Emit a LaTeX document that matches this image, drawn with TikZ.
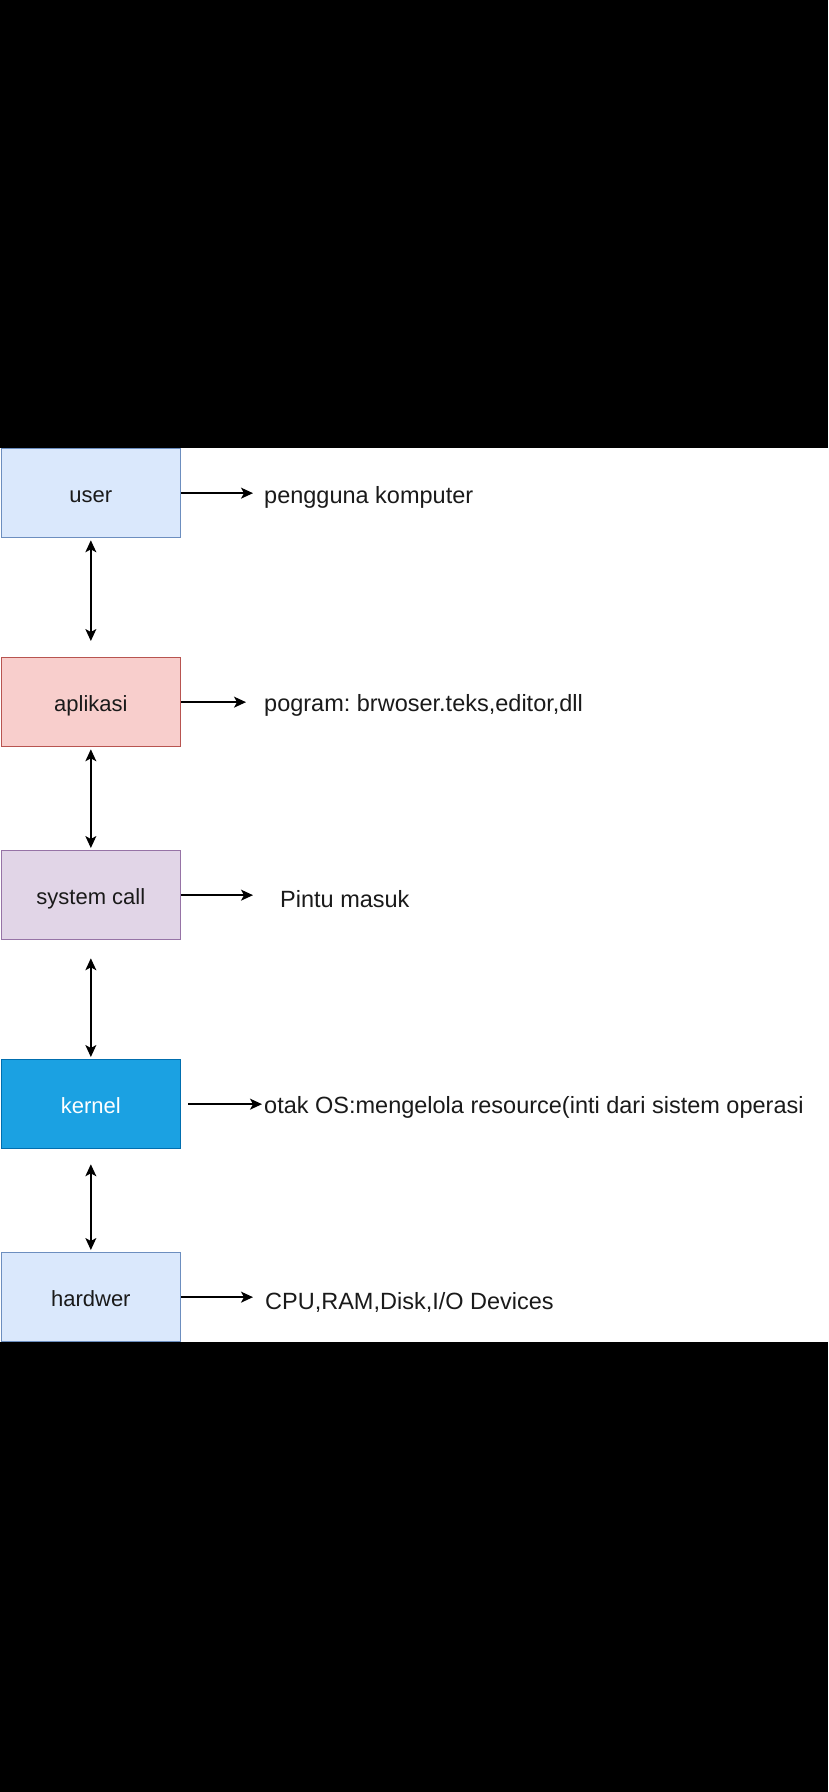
\documentclass[tikz,border=0pt]{standalone}
\usepackage{fontspec}
\setmainfont{Liberation Sans}
\usepackage{xcolor}
\usetikzlibrary{arrows.meta}
\definecolor{birufill}{HTML}{DAE8FC}
\definecolor{birugaris}{HTML}{6C8EBF}
\definecolor{merahfill}{HTML}{F8CECC}
\definecolor{merahgaris}{HTML}{B85450}
\definecolor{ungufill}{HTML}{E1D5E7}
\definecolor{ungugaris}{HTML}{9673A6}
\definecolor{kernelfill}{HTML}{1BA1E2}
\definecolor{kernelgaris}{HTML}{006EAF}
\definecolor{teksgelap}{HTML}{1A1A1A}

\begin{document}
\frenchspacing
\begin{tikzpicture}[x=1pt,y=-1pt,
    lapis/.style={draw,line width=1.3pt,anchor=north west,minimum width=179pt,minimum height=89pt,inner sep=0pt,text height=22pt,text depth=2.5pt,text=teksgelap,font=\fontsize{22}{26}\selectfont},
    ket/.style={anchor=west,inner sep=0pt,text=teksgelap,font=\fontsize{23.5}{28}\selectfont},
    panah/.style={-{Stealth[length=12pt,width=11pt,inset=3pt]},line width=1.4pt},
    duapanah/.style={{Stealth[length=12pt,width=11pt,inset=3pt]}-{Stealth[length=12pt,width=11pt,inset=3pt]},line width=1.4pt}]
        \useasboundingbox (0,0) rectangle (828,1792);
        \fill[black] (0,0) rectangle (828,1792);
        \fill[white] (0,448) rectangle (828,1342);
        % lapisan sistem
        \node[lapis,fill=birufill,draw=birugaris] (user) at (0.7,448) {user};
        \node[lapis,fill=merahfill,draw=merahgaris] (aplikasi) at (0.7,657) {aplikasi};
        \node[lapis,fill=ungufill,draw=ungugaris] (syscall) at (0.7,850) {system call};
        \node[lapis,fill=kernelfill,draw=kernelgaris,text=white] (kernel) at (0.7,1059) {kernel};
        \node[lapis,fill=birufill,draw=birugaris] (hardwer) at (0.7,1252) {hardwer};
        % keterangan
        \node[ket] (ketuser) at (264,497) {pengguna komputer};
        \node[ket] (ketaplikasi) at (264,705) {pogram: brwoser.teks,editor,dll};
        \node[ket] (ketsyscall) at (280,899) {Pintu masuk};
        \node[ket] (ketkernel) at (264,1107) {otak OS:mengelola resource(inti dari sistem operasi};
        \node[ket] (kethardwer) at (265,1302) {CPU,RAM,Disk,I/O Devices};
        \draw[panah,shorten >=11pt] (user.east) -- (user.east -| ketuser.west);
        \draw[panah,shorten >=18pt] (aplikasi.east) -- (aplikasi.east -| ketaplikasi.west);
        \draw[panah,shorten >=27pt] (syscall.east) -- (syscall.east -| ketsyscall.west);
        \draw[panah,shorten <=7pt,shorten >=2pt] (kernel.east) -- (kernel.east -| ketkernel.west);
        \draw[panah,shorten >=12pt] (hardwer.east) -- (hardwer.east -| kethardwer.west);
        % hubungan antar lapisan
        \draw[duapanah,shorten <=2pt,shorten >=16pt] (user.south) -- (aplikasi.north);
        \draw[duapanah,shorten <=2pt,shorten >=2pt] (aplikasi.south) -- (syscall.north);
        \draw[duapanah,shorten <=18pt,shorten >=2pt] (syscall.south) -- (kernel.north);
        \draw[duapanah,shorten <=15pt,shorten >=2pt] (kernel.south) -- (hardwer.north);
\end{tikzpicture}
\end{document}
